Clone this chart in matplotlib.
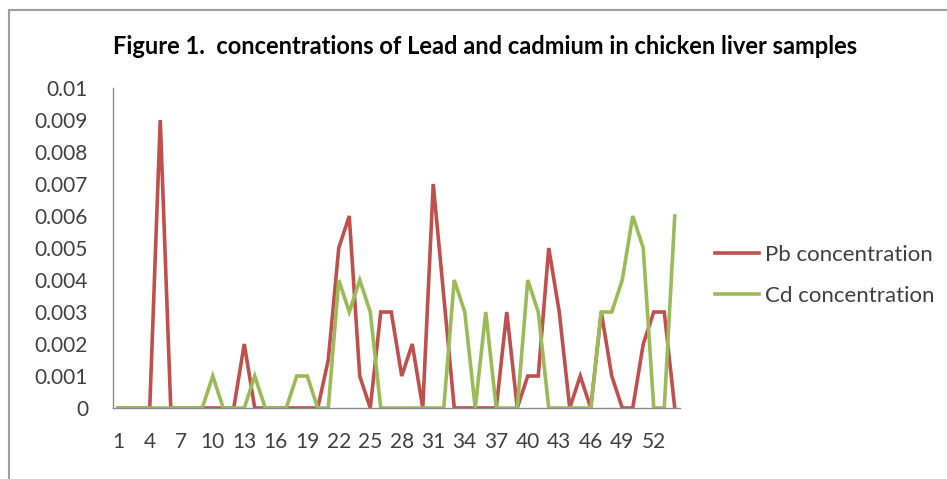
import numpy as np
import matplotlib.pyplot as plt
from matplotlib.lines import Line2D

# muestras 1..54
muestras = list(range(1, 55))

# concentraciones
pb = [0, 0, 0, 0, 0.009, 0, 0, 0, 0, 0,
      0, 0, 0.002, 0, 0, 0, 0, 0, 0, 0,
      0.0015, 0.005, 0.006, 0.001, 0, 0.003, 0.003, 0.001, 0.002, 0,
      0.007, 0.0035, 0, 0, 0, 0, 0, 0.003, 0, 0.001,
      0.001, 0.005, 0.003, 0, 0.001, 0, 0.003, 0.001, 0, 0,
      0.002, 0.003, 0.003, 0]
cd = [0, 0, 0, 0, 0, 0, 0, 0, 0, 0.001,
      0, 0, 0, 0.001, 0, 0, 0, 0.001, 0.001, 0,
      0, 0.004, 0.003, 0.004, 0.003, 0, 0, 0, 0, 0,
      0, 0, 0.004, 0.003, 0, 0.003, 0, 0, 0, 0.004,
      0.003, 0, 0, 0, 0, 0, 0.003, 0.003, 0.004, 0.006,
      0.005, 0, 0, 0.006]

rojo = '#C0504D'
verde = '#9BBB59'
gris = '#8C8C8C'

plt.rcParams['font.family'] = ['Lato', 'DejaVu Sans']

fig = plt.figure(figsize=(9.47, 4.79), dpi=100)
ax = fig.add_axes([113/947, 1 - 408/479, (680-113)/947, (408-88)/479])

ax.plot(muestras, pb, color=rojo, lw=2.6, label='Pb concentration', solid_joinstyle='miter')
ax.plot(muestras, cd, color=verde, lw=2.6, label='Cd concentration', solid_joinstyle='miter')

ax.set_xlim(0.5, 54.5)
ax.set_ylim(0, 0.01)
ax.set_yticks(np.arange(0, 0.0101, 0.001))
ax.set_yticklabels(['0'] + [f'{v:g}' for v in np.arange(0.001, 0.0101, 0.001)])
ax.set_xticks(muestras[::3])
ax.set_xticklabels([str(m) for m in muestras[::3]])

for s in ['top', 'right']:
    ax.spines[s].set_visible(False)
for s in ['left', 'bottom']:
    ax.spines[s].set_color(gris)
    ax.spines[s].set_linewidth(1)
ax.tick_params(axis='both', length=0, labelsize=15, colors='#404040')
ax.tick_params(axis='y', pad=18)
ax.tick_params(axis='x', pad=17)

fig.text(485/947, 1 - 47/479, 'Figure 1.  concentrations of Lead and cadmium in chicken liver samples',
         ha='center', va='center', fontsize=17, fontweight='bold', color='black')

handles = [Line2D([], [], color=rojo, lw=2.6), Line2D([], [], color=verde, lw=2.6)]
fig.legend(handles, ['Pb concentration', 'Cd concentration'], loc='upper left',
           bbox_to_anchor=(715/947, 1 - 245/479), frameon=False, fontsize=16,
           handlelength=2.0, handletextpad=0.25, labelspacing=0.95, labelcolor='#404040',
           borderpad=0, borderaxespad=0)

# marco del grafico
fig.add_artist(Line2D([9/947, 9/947], [0, 1 - 10/479], color='#A0A0A0', lw=1.5))
fig.add_artist(Line2D([9/947, 1], [1 - 10/479, 1 - 10/479], color='#A0A0A0', lw=1.5))

fig.savefig('out.png', dpi=100)
